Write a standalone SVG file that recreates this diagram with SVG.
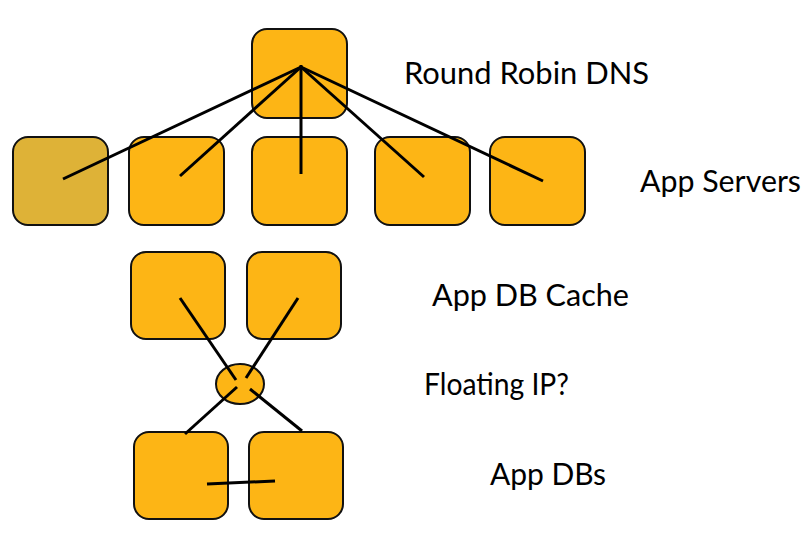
<svg xmlns="http://www.w3.org/2000/svg" width="812" height="549" viewBox="0 0 812 549">
<style>
.box{fill:#FDB515;stroke:#111;stroke-width:2}
.dim{fill:#DEB237}
.ln{stroke:#000;stroke-width:3;fill:none}
.lbl{font-family:Lato,"Open Sans","Liberation Sans",sans-serif;font-size:30px;fill:#000}
</style>
<rect width="812" height="549" fill="#fff"/>
<g id="dns"><rect class="box" x="252" y="29" width="95" height="89" rx="15"/></g>
<g id="app1"><rect class="box dim" x="13" y="137" width="95" height="88" rx="15"/></g>
<g id="app2"><rect class="box" x="129" y="137" width="95" height="88" rx="15"/></g>
<g id="app3"><rect class="box" x="252" y="137" width="95" height="88" rx="15"/></g>
<g id="app4"><rect class="box" x="375" y="137" width="95" height="88" rx="15"/></g>
<g id="app5"><rect class="box" x="490" y="137" width="95" height="88" rx="15"/></g>
<g id="cache1"><rect class="box" x="131" y="252" width="94" height="87" rx="15"/></g>
<g id="cache2"><rect class="box" x="247" y="252" width="94" height="87" rx="15"/></g>
<g id="fip"><ellipse class="box" cx="240" cy="384" rx="24" ry="20"/></g>
<g id="db1"><rect class="box" x="134" y="432" width="94" height="87" rx="15"/></g>
<g id="db2"><rect class="box" x="249" y="432" width="94" height="87" rx="15"/></g>
<g id="connectors">
<line class="ln" x1="301" y1="67" x2="63" y2="179"/>
<line class="ln" x1="301" y1="67" x2="180" y2="176"/>
<line class="ln" x1="301" y1="65" x2="301" y2="174" stroke-width="4"/>
<line class="ln" x1="301" y1="67" x2="424" y2="177"/>
<line class="ln" x1="301" y1="67" x2="543" y2="181"/>
<line class="ln" x1="180" y1="298" x2="236" y2="380"/>
<line class="ln" x1="298" y1="298" x2="246" y2="378"/>
<line class="ln" x1="237" y1="387" x2="185" y2="434"/>
<line class="ln" x1="250" y1="389" x2="302" y2="431"/>
<line class="ln" x1="207" y1="484" x2="275" y2="481"/>
</g>
<g id="labels">
<text class="lbl" x="404" y="84" textLength="245" lengthAdjust="spacingAndGlyphs">Round Robin DNS</text>
<text class="lbl" x="640" y="192" textLength="161" lengthAdjust="spacingAndGlyphs">App Servers</text>
<text class="lbl" x="432" y="306" textLength="197" lengthAdjust="spacingAndGlyphs">App DB Cache</text>
<text class="lbl" x="424" y="395" textLength="145" lengthAdjust="spacingAndGlyphs">Floating IP?</text>
<text class="lbl" x="490" y="485" textLength="116" lengthAdjust="spacingAndGlyphs">App DBs</text>
</g>
</svg>
